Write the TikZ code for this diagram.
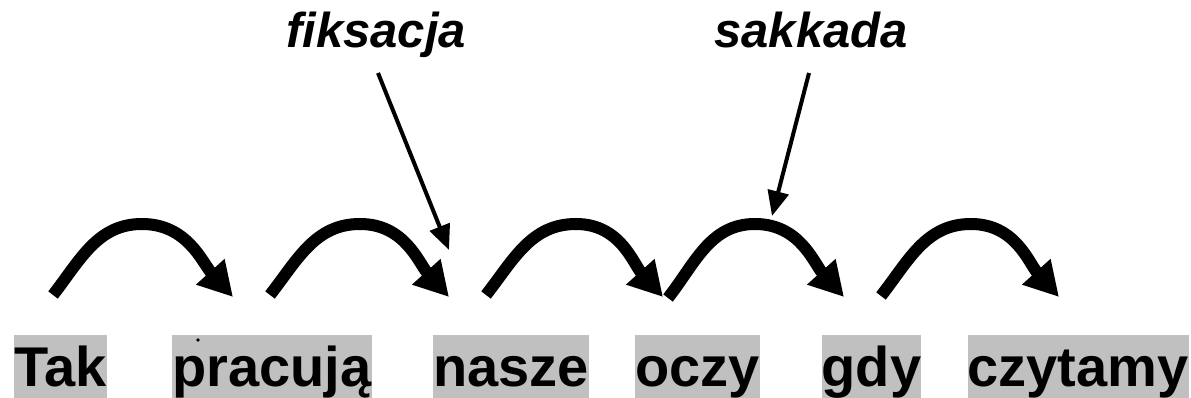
\documentclass[tikz,border=0pt]{standalone}
\usepackage{fontspec}
\setmainfont{Liberation Sans}
\usetikzlibrary{arrows.meta}
\definecolor{boxgray}{RGB}{192,192,192}
\begin{document}
\begin{tikzpicture}[x=1pt,y=1pt,
  word/.style={font=\fontsize{56}{60}\selectfont\bfseries, fill=boxgray, inner sep=0pt, text height=52pt, text depth=11pt, anchor=base},
  lab/.style={font=\fontsize{49}{52}\selectfont\bfseries\itshape, inner sep=0pt, anchor=base},
  sweep/.style={line width=12pt, -{Triangle[length=34pt,width=36pt]}},
  pointer/.style={line width=4pt, -{Triangle[length=25pt,width=21pt]}}]
\useasboundingbox (0,0) rectangle (1191,398);
% words
\node[word] (w1) at (60.5,11) {Tak};
\node[word] (w2) at (272,11) {pracują};
\node[word] (w3) at (511,11) {nasze};
\node[word] (w4) at (697.5,11) {oczy};
\node[word] (w5) at (871.5,11) {gdy};
\node[word] (w6) at (1078,11) {czytamy};
\fill (198,58) circle (1.8pt);
% labels
\node[lab] (fix) at (376,350) {fiksacja};
\node[lab] (sak) at (811,350) {sakkada};
% sweep coordinates
\foreach \i/\s/\a/\t/\sy in {1/53/142/233/103, 2/270/360/449/103, 3/486/576/663/103, 4/668/755/844/100, 5/881/971/1059/102}{
  \coordinate (s\i) at (\s,\sy);
  \coordinate (p\i) at (\a,174);
  \coordinate (t\i) at (\t,101);
}
\foreach \i in {1,...,5}{
  \draw[sweep] (s\i) to[out=52,in=180] (p\i) to[out=0,in=132] (t\i);
}
% pointers
\coordinate (fixs) at (378,325);
\coordinate (fixt) at (449,148);
\coordinate (saks) at (809,325);
\coordinate (sakt) at (772,182);
\draw[pointer] (fixs) -- (fixt);
\draw[pointer] (saks) -- (sakt);
\end{tikzpicture}
\end{document}
